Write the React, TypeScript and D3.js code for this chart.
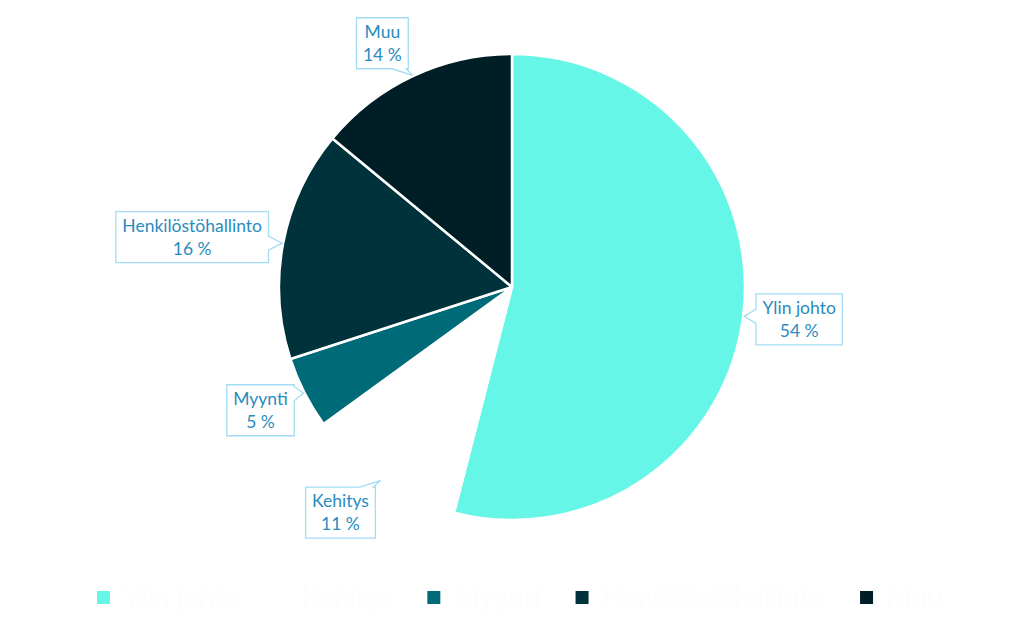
import React from "react";
import * as d3 from "d3";

const categories = ["Ylin johto", "Kehitys", "Myynti", "Henkilöstöhallinto", "Muu"];
const values = [54, 11, 5, 16, 14];
const colors = ["#65F6E7", "#FFFFFF", "#006B78", "#00323C", "#001E26"];

// callout box placement relative to the slice's edge point (layout only)
const calloutOffsets: [number, number][] = [
  [55, 3],
  [-40, 32],
  [-43, 17],
  [-90, -6],
  [-30, -32],
];

const W = 1024;
const H = 631;
const cx = 512;
const cy = 287;
const R = 233;
const FONT = "Lato, 'Open Sans', sans-serif";
const LABEL_SIZE = 17.5;

function measure(text: string, size: number) {
  const c = document.createElement("canvas").getContext("2d");
  if (!c) return text.length * size * 0.5;
  c.font = `${size}px Lato`;
  return c.measureText(text).width;
}

function calloutPath(x0: number, y0: number, w: number, h: number, tx: number, ty: number) {
  const x1 = x0 + w;
  const y1 = y0 + h;
  const hw = 7;
  const clamp = (v: number, a: number, b: number) => Math.max(a, Math.min(b, v));
  const dists: Record<string, number> = {
    top: y0 - ty,
    bottom: ty - y1,
    left: x0 - tx,
    right: tx - x1,
  };
  const side = Object.keys(dists).reduce((a, b) => (dists[b] > dists[a] ? b : a));
  const pts: [number, number][] = [];
  if (side === "top") {
    const p = clamp(tx, x0 + hw + 2, x1 - hw - 2);
    pts.push([x0, y0], [p - hw, y0], [tx, ty], [p + hw, y0], [x1, y0], [x1, y1], [x0, y1]);
  } else if (side === "bottom") {
    const p = clamp(tx, x0 + hw + 2, x1 - hw - 2);
    pts.push([x0, y0], [x1, y0], [x1, y1], [p + hw, y1], [tx, ty], [p - hw, y1], [x0, y1]);
  } else if (side === "right") {
    const p = clamp(ty, y0 + hw + 2, y1 - hw - 2);
    pts.push([x0, y0], [x1, y0], [x1, p - hw], [tx, ty], [x1, p + hw], [x1, y1], [x0, y1]);
  } else {
    const p = clamp(ty, y0 + hw + 2, y1 - hw - 2);
    pts.push([x0, y0], [x1, y0], [x1, y1], [x0, y1], [x0, p + hw], [tx, ty], [x0, p - hw]);
  }
  return "M" + pts.map((p) => p.join(",")).join("L") + "Z";
}

export default function App() {
  const data = categories.map((c, i) => ({ name: c, value: values[i], color: colors[i], i }));
  const pie = d3
    .pie<any>()
    .value((d) => d.value)
    .sort(null)
    .startAngle(0)
    .endAngle(2 * Math.PI);
  const arcs = pie(data);
  const arcGen = d3.arc<any>().innerRadius(0).outerRadius(R);

  const total = d3.sum(values);

  // legend layout
  const legendSize = 28;
  let lx = 97;
  const legendItems = data.map((d) => {
    const tw = measure(d.name, legendSize);
    const item = { ...d, x: lx };
    lx += 13 + 13 + tw + 35;
    return item;
  });

  return (
    <svg width={W} height={H} style={{ position: "absolute", left: 0, top: 0 }}>
      <rect width={W} height={H} fill="#fff" />
      <g transform={`translate(${cx},${cy})`}>
        {arcs.map((a, i) => (
          <path key={i} d={arcGen(a) as string} fill={a.data.color} stroke="#fff" strokeWidth={2.5} strokeLinejoin="round" />
        ))}
      </g>
      {arcs.map((a, i) => {
        const mid = (a.startAngle + a.endAngle) / 2;
        const tx = cx + Math.sin(mid) * (R + 1);
        const ty = cy - Math.cos(mid) * (R + 1);
        const pct = `${Math.round((a.data.value / total) * 100)} %`;
        const tw = Math.max(measure(a.data.name, LABEL_SIZE), measure(pct, LABEL_SIZE));
        const bw = tw + 13;
        const bh = 51;
        const [ox, oy] = calloutOffsets[i];
        const bcx = tx + ox;
        const bcy = ty + oy;
        const x0 = bcx - bw / 2;
        const y0 = bcy - bh / 2;
        return (
          <g key={"c" + i}>
            <path d={calloutPath(x0, y0, bw, bh, tx, ty)} fill="#fff" stroke="#A3DCF4" strokeWidth={1.3} />
            <text x={bcx} y={y0 + 20} textAnchor="middle" fontFamily={FONT} fontSize={LABEL_SIZE} fill="#2A8BBE">
              {a.data.name}
            </text>
            <text x={bcx} y={y0 + 43} textAnchor="middle" fontFamily={FONT} fontSize={LABEL_SIZE} fill="#2A8BBE">
              {pct}
            </text>
          </g>
        );
      })}
      <g>
        {legendItems.map((d, i) => (
          <g key={"l" + i}>
            <rect x={d.x} y={591} width={13} height={13} fill={d.color} />
            <text x={d.x + 26} y={607} fontFamily={FONT} fontSize={legendSize} fill="#FDFDFD">
              {d.name}
            </text>
          </g>
        ))}
      </g>
    </svg>
  );
}
